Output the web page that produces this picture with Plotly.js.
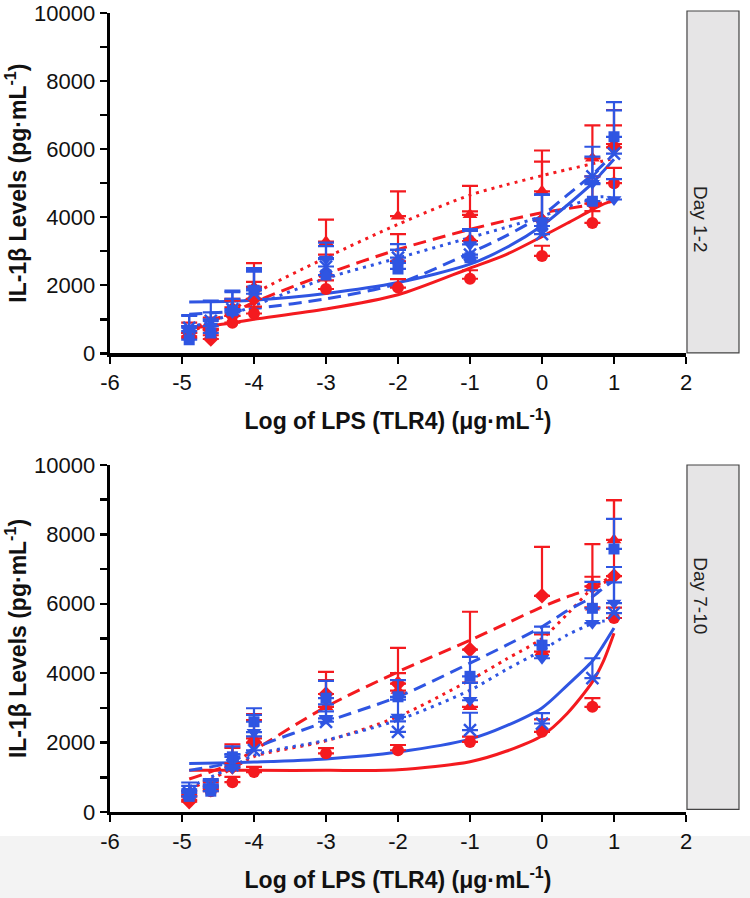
<!DOCTYPE html>
<html>
<head>
<meta charset="utf-8">
<script src="https://cdn.plot.ly/plotly-3.0.1.min.js"></script>
<style>html,body{margin:0;padding:0;background:#fff;}#chart{width:750px;height:898px;}</style>
</head>
<body>
<div id="chart"></div>
<script>
// ---------- DATA ----------
const logDose = [-4.9, -4.6, -4.3, -4, -3, -2, -1, 0, 0.7, 1];
const fitDose = [-4.9, -4.3, -4, -3, -2, -1, -0.5, 0, 0.35, 0.7, 0.85, 1];
const xTicks = [-6, -5, -4, -3, -2, -1, 0, 1, 2];
const yTicks = [0, 2000, 4000, 6000, 8000, 10000];
const panelLabels = ["Day 1-2", "Day 7-10"];

// Day 1-2 measured means and upper SEM
const d1RedCircle      = [450, 530, 900, 1170, 1890, 1930, 2190, 2860, 3830, 5000];
const d1RedCircleErr   = [150, 150, 200, 200, 250, 250, 250, 300, 350, 450];
const d1RedTriangle    = [600, 700, 1350, 1950, 3280, 4030, 4070, 4760, 5730, 6150];
const d1RedTriangleErr = [300, 350, 250, 700, 650, 730, 850, 1200, 970, 1000];
const d1RedDiamond     = [500, 420, 1100, 1600, 2300, 2700, 3300, 3900, 4400, 6050];
const d1RedDiamondErr  = [300, 300, 450, 500, 600, 800, 870, 1730, 800, 650];
const d1BlueSquare     = [400, 600, 1250, 1850, 2300, 2480, 2810, 3740, 4470, 6360];
const d1BlueSquareErr  = [400, 400, 350, 550, 500, 560, 830, 920, 500, 1020];
const d1BlueX          = [750, 950, 1300, 1750, 2550, 2810, 2900, 3500, 5200, 5870];
const d1BlueXErr       = [370, 600, 540, 700, 600, 400, 700, 1160, 870, 1270];
const d1BlueTri        = [650, 800, 1200, 1900, 2770, 2660, 3200, 3900, 5000, 4520];
const d1BlueTriErr     = [450, 400, 600, 600, 480, 380, 450, 760, 780, 600];

// Day 1-2 fitted curves (read at fitDose)
const d1FitRedSolid   = [730, 900, 1000, 1300, 1720, 2500, 2900, 3430, 3820, 4220, 4380, 4500];
const d1FitRedDash    = [700, 1200, 1500, 2330, 3050, 3640, 3900, 4130, 4250, 4370, 4420, 4470];
const d1FitRedDot     = [600, 1250, 1740, 2810, 3790, 4650, 4950, 5220, 5400, 5570, 5650, 5730];
const d1FitBlueSolid  = [1510, 1530, 1560, 1760, 2080, 2620, 3100, 3750, 4350, 5000, 5350, 5700];
const d1FitBlueDash   = [1150, 1230, 1310, 1600, 2050, 2950, 3450, 4050, 4650, 5250, 5550, 5850];
const d1FitBlueDot    = [750, 1150, 1400, 2200, 2800, 3400, 3700, 4030, 4300, 4560, 4600, 4550];

// Day 7-10 measured means and upper SEM
const d2RedCircle      = [350, 600, 860, 1150, 1690, 1780, 2020, 2310, 3030, 5590];
const d2RedCircleErr   = [100, 150, 150, 150, 150, 150, 150, 360, 250, 300];
const d2RedTriangle    = [450, 700, 1400, 2120, 3030, 3500, 3030, 4620, 5900, 7840];
const d2RedTriangleErr = [150, 150, 550, 700, 770, 500, 700, 500, 880, 1150];
const d2RedDiamond     = [300, 650, 1300, 2000, 3400, 3700, 4680, 6230, 6500, 6800];
const d2RedDiamondErr  = [200, 250, 550, 650, 640, 1030, 1090, 1410, 1220, 2190];
const d2BlueSquare     = [450, 600, 1590, 2600, 3280, 3320, 3910, 4810, 5870, 7580];
const d2BlueSquareErr  = [200, 200, 300, 390, 500, 480, 560, 530, 760, 870];
const d2BlueX          = [550, 750, 1350, 1780, 2600, 2310, 2360, 2550, 3860, 5730];
const d2BlueXErr       = [200, 150, 300, 400, 300, 300, 500, 300, 570, 1330];
const d2BlueTri        = [600, 700, 1270, 2300, 2700, 2740, 3220, 4430, 5440, 6020];
const d2BlueTriErr     = [250, 250, 400, 500, 400, 500, 500, 740, 950, 600];

// Day 7-10 fitted curves (read at fitDose)
const d2FitRedSolid   = [1200, 1200, 1200, 1200, 1220, 1450, 1750, 2200, 2840, 3750, 4330, 5150];
const d2FitRedDash    = [950, 1400, 1780, 3030, 4040, 4950, 5430, 5910, 6200, 6450, 6600, 6740];
const d2FitRedDot     = [650, 1250, 1600, 2050, 2750, 3800, 4400, 5000, 5700, 6450, 6650, 6830];
const d2FitBlueSolid  = [1400, 1420, 1440, 1530, 1730, 2100, 2480, 3000, 3650, 4350, 4800, 5300];
const d2FitBlueDash   = [1200, 1450, 1830, 2600, 3320, 4290, 4800, 5340, 5800, 6200, 6450, 6680];
const d2FitBlueDot    = [720, 1300, 1640, 2070, 2650, 3510, 4100, 4660, 5100, 5430, 5500, 5530];

// ---------- STYLES ----------
const RED = '#f41a1f';
const BLUE = '#2f55e2';

const panels = [
  {xa: 'x', ya: 'y',
   fits: [[d1FitRedSolid, RED, 'solid'], [d1FitRedDash, RED, 'dash'], [d1FitRedDot, RED, 'dot'],
          [d1FitBlueSolid, BLUE, 'solid'], [d1FitBlueDash, BLUE, 'dash'], [d1FitBlueDot, BLUE, 'dot']],
   pts: [[d1RedCircle, d1RedCircleErr, RED, 'circle', 12], [d1RedTriangle, d1RedTriangleErr, RED, 'triangle-up', 13],
         [d1RedDiamond, d1RedDiamondErr, RED, 'diamond', 12], [d1BlueSquare, d1BlueSquareErr, BLUE, 'square', 11],
         [d1BlueX, d1BlueXErr, BLUE, 'x-thin-open', 12], [d1BlueTri, d1BlueTriErr, BLUE, 'triangle-down', 13]]},
  {xa: 'x2', ya: 'y2',
   fits: [[d2FitRedSolid, RED, 'solid'], [d2FitRedDash, RED, 'dash'], [d2FitRedDot, RED, 'dot'],
          [d2FitBlueSolid, BLUE, 'solid'], [d2FitBlueDash, BLUE, 'dash'], [d2FitBlueDot, BLUE, 'dot']],
   pts: [[d2RedCircle, d2RedCircleErr, RED, 'circle', 12], [d2RedTriangle, d2RedTriangleErr, RED, 'triangle-up', 13],
         [d2RedDiamond, d2RedDiamondErr, RED, 'diamond', 12], [d2BlueSquare, d2BlueSquareErr, BLUE, 'square', 11],
         [d2BlueX, d2BlueXErr, BLUE, 'x-thin-open', 12], [d2BlueTri, d2BlueTriErr, BLUE, 'triangle-down', 13]]}
];

const traces = [];
panels.forEach(p => {
  p.fits.forEach(([ys, col, dash]) => {
    traces.push({x: fitDose, y: ys, xaxis: p.xa, yaxis: p.ya, mode: 'lines', type: 'scatter',
      line: {color: col, width: 3, dash: dash === 'dash' ? '13px,7px' : (dash === 'dot' ? '3px,5px' : 'solid'), shape: 'spline', smoothing: 0.8},
      hoverinfo: 'skip', showlegend: false});
  });
  p.pts.forEach(([ys, err, col, sym, size]) => {
    traces.push({x: logDose, y: ys, xaxis: p.xa, yaxis: p.ya, mode: 'markers', type: 'scatter',
      marker: {color: col, symbol: sym, size: size, line: {color: col, width: sym === 'x-thin-open' ? 2.5 : 0}},
      error_y: {type: 'data', symmetric: false, array: err, arrayminus: err.map(() => 0), color: col, thickness: 2.2, width: 8},
      showlegend: false});
  });
});

const tickFont = {family: 'Liberation Sans, Arial, sans-serif', size: 22, color: '#111'};
const titleFont = {family: 'Liberation Sans, Arial, sans-serif', size: 23, color: '#111', weight: 'bold'};

function xAxis(anchor) {
  return {domain: [0, 1], anchor: anchor, range: [-6, 2], tickmode: 'array', tickvals: xTicks,
    ticktext: xTicks.map(String), showline: true, linecolor: '#000', linewidth: 3.3, ticks: 'outside',
    ticklen: 7, tickwidth: 2.5, tickcolor: '#000', showgrid: false, zeroline: false, tickfont: tickFont,
    ticklabeloverflow: 'allow',
    title: {text: '<b>Log of LPS (TLR4) (\u03bcg\u00b7mL<sup>-1</sup>)</b>', font: titleFont, standoff: 20}};
}
function yAxis(anchor, dom) {
  return {domain: dom, anchor: anchor, range: [0, 10000], tickmode: 'array', tickvals: yTicks,
    ticktext: yTicks.map(String),
    showline: true, linecolor: '#000', linewidth: 3.3, ticks: 'outside', ticklen: 7, tickwidth: 2.5, tickcolor: '#000',
    minor: {dtick: 1000, tick0: 0, ticks: 'outside', ticklen: 7, tickwidth: 2.5, tickcolor: '#000', showgrid: false},
    showgrid: false, zeroline: false, tickfont: tickFont, ticklabeloverflow: 'allow',
    title: {text: '<b>IL-1\u03b2 Levels (pg\u00b7mL<sup>-1</sup>)</b>', font: titleFont, standoff: 2}};
}

// plot area spans y 13..812 px (height 799)
const topDom = [0.5741, 1];
const botDom = [0, 0.4343];

const stripX0 = 1.0017, stripX1 = 1.092;
const layout = {
  width: 750, height: 898,
  margin: {l: 110, r: 64, t: 13, b: 86},
  paper_bgcolor: '#fff', plot_bgcolor: '#fff',
  showlegend: false,
  xaxis: xAxis('y'), yaxis: yAxis('x', topDom),
  xaxis2: xAxis('y2'), yaxis2: yAxis('x2', botDom),
  shapes: [
    {type: 'rect', xref: 'paper', yref: 'paper', x0: -0.2, x1: 1.12, y0: -0.03, y1: -0.11,
     fillcolor: '#f3f3f3', line: {width: 0}, layer: 'below'},
    {type: 'rect', xref: 'paper', yref: 'paper', x0: stripX0, x1: stripX1, y0: 0.5745, y1: 1.0025,
     fillcolor: '#e6e5e6', line: {color: '#444', width: 1.2}, layer: 'above'},
    {type: 'rect', xref: 'paper', yref: 'paper', x0: stripX0, x1: stripX1, y0: 0.0034, y1: 0.4343,
     fillcolor: '#e6e5e6', line: {color: '#444', width: 1.2}, layer: 'above'}
  ],
  annotations: [
    {xref: 'paper', yref: 'paper', x: (stripX0 + stripX1) / 2, y: 0.786, text: panelLabels[0], textangle: 90,
     showarrow: false, font: {family: 'Liberation Sans, Arial, sans-serif', size: 19, color: '#222'}},
    {xref: 'paper', yref: 'paper', x: (stripX0 + stripX1) / 2, y: 0.22, text: panelLabels[1], textangle: 90,
     showarrow: false, font: {family: 'Liberation Sans, Arial, sans-serif', size: 19, color: '#222'}}
  ]
};

Plotly.newPlot('chart', traces, layout, {displayModeBar: false, staticPlot: true});
</script>
</body>
</html>
